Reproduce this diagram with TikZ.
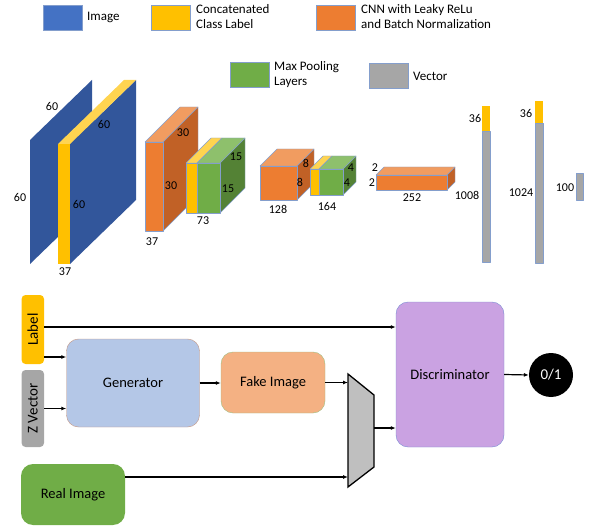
\documentclass[tikz,border=0pt]{standalone}
\usepackage{fontspec}
\setmainfont{Carlito}
\usetikzlibrary{arrows.meta}

\definecolor{imgblue}{RGB}{68,114,196}
\definecolor{slabblue}{RGB}{50,86,155}
\definecolor{lblyellow}{RGB}{255,192,0}
\definecolor{lbltop}{RGB}{255,212,80}
\definecolor{cnnorange}{RGB}{237,125,49}
\definecolor{cnntop}{RGB}{241,156,96}
\definecolor{cnnside}{RGB}{193,97,38}
\definecolor{poolgreen}{RGB}{112,173,71}
\definecolor{pooltop}{RGB}{142,192,108}
\definecolor{poolside}{RGB}{84,130,53}
\definecolor{vecgray}{RGB}{166,166,166}
\definecolor{edgeblue}{RGB}{132,158,204}
\definecolor{genblue}{RGB}{180,199,231}
\definecolor{genedge}{RGB}{196,150,130}
\definecolor{fakeorange}{RGB}{244,177,131}
\definecolor{fakeedge}{RGB}{160,190,130}
\definecolor{discpurple}{RGB}{202,162,226}
\definecolor{discedge}{RGB}{120,140,210}
\definecolor{muxgray}{RGB}{191,191,191}

\begin{document}
\begin{tikzpicture}[x=1pt,y=-1pt,font=\fontsize{12}{15}\selectfont,
  face/.style={draw=edgeblue,line width=0.4pt,line join=round},
  key/.style={draw=edgeblue,line width=0.6pt,minimum width=39pt,minimum height=25pt,inner sep=0pt},
  keytext/.style={anchor=west,align=left,inner sep=0pt,font=\fontsize{13}{15}\selectfont},
  dim/.style={inner sep=0pt},
  box/.style={rounded corners=12pt,inner sep=0pt,font=\fontsize{14.5}{16}\selectfont},
  side/.style={box,rounded corners=4pt,minimum width=22.5pt,font=\fontsize{15}{16}\selectfont},
  arr/.style={-{Latex[length=5pt,width=4pt]},line width=1.2pt}]

\useasboundingbox (0,0) rectangle (590,527);

% legend
\node[key,fill=imgblue] (kImage) at (62.5,17.5) {};
\node[keytext] (tImage) at (87,17.5) {Image};
\node[key,fill=lblyellow] (kLabel) at (171,17.5) {};
\node[keytext] (tLabel) at (196,17) {Concatenated\\Class Label};
\node[key,fill=cnnorange] (kCnn) at (336,17.5) {};
\node[keytext] (tCnn) at (361,17) {CNN with Leaky ReLu\\and Batch Normalization};
\node[key,fill=poolgreen] (kPool) at (249.5,75) {};
\node[keytext] (tPool) at (274,75) {Max Pooling\\Layers};
\node[key,fill=vecgray] (kVec) at (388.5,75.5) {};
\node[keytext] (tVec) at (413,76) {Vector};

% input image with label
\fill[slabblue] (30,140) -- (92,80) -- (92,204) -- (30,264) -- cycle;
\fill[slabblue] (70,144) -- (136,80) -- (136,200) -- (70,264) -- cycle;
\fill[lbltop] (58,144) -- (70,144) -- (136,80) -- (124,80) -- cycle;
\fill[lblyellow] (58,144) rectangle (70,264);

\foreach \x/\y/\w/\h/\d in {145/142/18/89/35, 260/166/37/34/17, 376/175/71/15/8}{
  \draw[face,fill=cnnside] (\x+\w,\y) -- ++(\d,-\d) -- ++(0,\h) -- ++(-\d,\d) -- cycle;
  \draw[face,fill=cnntop] (\x,\y) -- ++(\d,-\d) -- ++(\w,0) -- ++(-\d,\d) -- cycle;
  \draw[face,fill=cnnorange] (\x,\y) rectangle ++(\w,\h);
}
\foreach \x/\y/\a/\b/\h/\d in {186/163/11/23/50/25, 310/169/9/24/26/13}{
  \draw[face,fill=poolside] (\x+\a+\b,\y) -- ++(\d,-\d) -- ++(0,\h) -- ++(-\d,\d) -- cycle;
  \draw[face,fill=lbltop] (\x,\y) -- ++(\d,-\d) -- ++(\a,0) -- ++(-\d,\d) -- cycle;
  \draw[face,fill=pooltop] (\x+\a,\y) -- ++(\d,-\d) -- ++(\b,0) -- ++(-\d,\d) -- cycle;
  \draw[face,fill=lblyellow] (\x,\y) rectangle ++(\a,\h);
  \draw[face,fill=poolgreen] (\x+\a,\y) rectangle ++(\b,\h);
}

% vectors
\fill[lblyellow] (482,106) rectangle (490,131);
\draw[face,fill=vecgray] (482,131) rectangle (490,262);
\fill[lblyellow] (535,101) rectangle (543,123);
\draw[face,fill=vecgray] (535,123) rectangle (543,263);
\draw[face,fill=vecgray] (576,173) rectangle (583,200);

\foreach \n/\x/\y/\t in {a/52/106/60, b/104/124/60, c/20/197/60, d/79/204/60, e/65/272/37,
  f/183/133/30, g/171/186/30, h/152/242/37, i/236/157/15, j/228/189/15, k/203/221/73,
  l/306/163/8, m/300/182/8, n/278/209/128, o/351/168/4, p/347/183/4, q/327/206/164,
  r/375/168/2, s/372/183/2, t/412/198/252, u/475/118/36, v/467/195/1008,
  w/526/113/36, x/521/193/1024, y/565/188/100}{
  \node[dim] (d\n) at (\x,\y) {\t};
}

% cGAN
\node[side,fill=lblyellow,minimum height=69pt] (label) at (32.8,329.5) {\rotatebox{90}{Label}};
\node[side,fill=vecgray,minimum height=77pt] (zvec) at (32.8,408.5) {\rotatebox{90}{Z Vector}};
\node[box,fill=genblue,draw=genedge,minimum width=133pt,minimum height=88pt] (gen) at (133,383) {Generator};
\node[box,fill=fakeorange,draw=fakeedge,minimum width=104pt,minimum height=61pt] (fake) at (273,382.5) {Fake Image};
\node[box,fill=discpurple,draw=discedge,minimum width=108pt,minimum height=145pt] (disc) at (450,374.5) {Discriminator};
\node[circle,fill=black,text=white,minimum size=44pt,inner sep=0pt,font=\fontsize{15}{16}\selectfont] (out) at (551,375) {0/1};
\node[box,fill=poolgreen,minimum width=104pt,minimum height=61pt] (real) at (73,494.5) {Real Image};

\draw[fill=muxgray,line width=1.3pt] (348,374) -- (374,395) -- (374,467) -- (348,487) -- cycle;
\coordinate (muxin) at (348,430);
\coordinate (muxout) at (374,428);

\draw[arr] ([yshift=2.5pt]label.east) -- ([yshift=2.5pt]label.east -| disc.west);
\draw[arr] ([yshift=-27.5pt]label.east) -- ([yshift=-27.5pt]label.east -| gen.west);
\draw[arr] (zvec.east) -- (zvec.east -| gen.west);
\draw[arr] (gen.east) -- (gen.east -| fake.west);
\draw[arr] (fake.east) -- (fake.east -| muxin);
\draw[arr] ([yshift=17.5pt]real.east) -- ([yshift=17.5pt]real.east -| muxin);
\draw[arr] (muxout) -- (muxout -| disc.west);
\draw[arr] (disc.east) -- (out.west);

\end{tikzpicture}
\end{document}
